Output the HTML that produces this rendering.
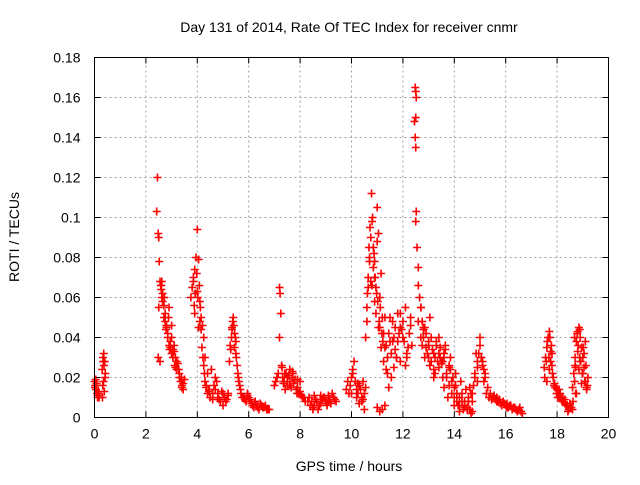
<!DOCTYPE html>
<html><head><meta charset="utf-8"><style>
body{margin:0;background:#fff}
svg text{font-family:"Liberation Sans",sans-serif;font-size:14px;fill:#000}
</style></head><body>
<svg id="chart" width="640" height="480" xmlns="http://www.w3.org/2000/svg">
<text x="349" y="32" text-anchor="middle">Day 131 of 2014, Rate Of TEC Index for receiver cnmr</text>
<text x="349" y="471" text-anchor="middle">GPS time / hours</text>
<text transform="translate(19,237) rotate(-90)" text-anchor="middle">ROTI / TECUs</text>
<g id="grid"></g><g id="ticks"></g><g id="pts"></g>
<rect x="94.5" y="57.5" width="514" height="360" fill="none" stroke="#000" stroke-width="1"/>
</svg>
<script>
const xTicks=[0,2,4,6,8,10,12,14,16,18,20];
const yTicks=[0,0.02,0.04,0.06,0.08,0.1,0.12,0.14,0.16,0.18];
const yTickLabels=["0","0.02","0.04","0.06","0.08","0.1","0.12","0.14","0.16","0.18"];
const times=[0,0.03,0.06,0.1,0.13,0.16,0.05,0.12,0.3,0.33,0.36,0.4,0.42,0.35,0.38,0.31,
2.42,2.45,2.48,2.5,2.52,2.55,2.58,2.6,2.62,2.65,2.5,2.7,2.75,2.8,2.85,2.9,2.95,3.0,3.05,3.1,3.15,3.2,3.25,3.3,3.35,3.4,3.45,3.5,2.9,3.0,3.1,2.48,2.55,
3.75,3.8,3.85,3.9,3.95,4.0,4.05,4.08,4.1,4.12,4.15,4.2,4.25,4.3,3.9,4.0,4.05,
4.3,4.4,4.5,4.6,4.7,4.8,4.9,5.0,5.1,5.2,4.55,4.75,4.95,
5.25,5.3,5.35,5.4,5.45,5.5,5.55,5.6,5.65,5.7,5.38,5.5,
5.8,5.9,6.0,6.1,6.2,6.3,6.4,6.5,6.6,6.7,6.8,5.95,6.25,
7.0,7.1,7.2,7.22,7.25,7.2,7.3,7.4,7.5,7.6,7.7,7.8,7.9,8.0,8.1,8.2,7.35,7.65,7.95,
8.3,8.4,8.5,8.6,8.7,8.8,8.9,9.0,9.1,9.2,9.3,9.4,8.55,9.05,
9.8,9.9,10.0,10.1,10.2,10.3,10.4,10.5,10.05,10.25,10.45,
10.55,10.6,10.65,10.7,10.75,10.78,10.8,10.85,10.9,10.95,11.0,11.05,11.1,11.15,11.2,10.7,10.9,11.0,10.8,11.1,
11.25,11.3,11.4,11.5,11.6,11.7,11.8,11.9,12.0,12.1,12.2,12.3,11.35,11.55,11.75,11.95,12.15,11.3,11.8,
11.0,11.1,11.2,11.3,
12.45,12.48,12.5,12.52,12.5,12.48,12.5,12.52,12.5,12.55,12.6,12.65,12.7,12.75,12.8,12.9,13.0,13.1,13.2,13.3,13.4,13.5,12.85,13.05,13.25,13.45,12.6,
13.55,13.6,13.7,13.8,13.9,14.0,14.1,14.2,14.3,14.4,14.5,14.6,14.7,13.65,13.85,14.05,14.25,14.45,13.75,14.15,
14.6,14.7,14.8,14.9,15.0,15.05,15.1,15.2,15.3,14.85,15.15,
15.4,15.5,15.6,15.7,15.8,15.9,16.0,16.1,16.2,16.3,16.4,16.5,16.6,15.65,16.05,
17.5,17.55,17.6,17.65,17.7,17.75,17.8,17.85,17.9,17.95,18.0,18.05,18.1,17.6,17.75,
18.15,18.2,18.3,18.4,18.5,18.6,18.3,18.5,
18.6,18.65,18.7,18.75,18.8,18.85,18.9,18.95,19.0,19.05,19.1,19.15,19.2,18.7,18.8,18.9,19.0,19.1,18.75,18.95,
0.02,0.08,0.15,0.18,0.34,0.37,0.41,0.32,
2.6,2.65,2.7,2.75,2.8,2.85,2.95,3.05,3.15,3.2,3.3,3.4,3.45,2.72,2.88,3.0,3.12,3.28,3.38,2.62,2.78,2.92,
3.85,3.92,3.98,4.02,4.1,4.15,4.18,4.22,4.28,4.35,4.45,4.25,3.88,
4.35,4.45,4.6,4.65,4.8,4.85,5.05,5.15,5.2,4.4,4.7,5.0,
5.28,5.33,5.42,5.48,5.52,5.58,5.62,5.68,5.75,5.45,5.35,
5.85,5.95,6.05,6.15,6.25,6.35,6.45,6.55,6.65,6.75,
7.05,7.15,7.28,7.32,7.38,7.45,7.5,7.55,7.6,7.7,7.75,7.85,7.9,8.05,8.15,7.42,7.58,7.72,7.88,8.0,
8.35,8.45,8.55,8.65,8.75,8.85,8.95,9.05,9.15,9.25,9.35,8.5,8.8,9.1,
9.85,9.95,10.05,10.15,10.25,10.35,10.45,10.55,10.0,10.2,10.4,10.3,10.5,
10.62,10.68,10.72,10.82,10.88,10.92,10.98,11.02,11.08,11.12,11.18,11.22,10.6,10.75,10.85,10.95,11.05,11.15,10.9,10.65,
11.25,11.35,11.45,11.5,11.55,11.65,11.75,11.85,11.9,12.0,12.05,12.15,12.25,12.35,11.4,11.6,11.7,11.9,12.1,12.3,11.45,11.65,
12.6,12.7,12.75,12.8,12.85,12.95,13.0,13.05,13.1,13.15,13.2,13.25,13.3,13.35,13.4,13.45,13.5,12.9,13.0,13.2,13.4,12.7,12.8,
13.55,13.6,13.65,13.7,13.8,13.85,13.9,13.95,14.0,14.05,14.1,14.2,14.3,14.35,14.4,14.5,14.55,14.65,13.6,13.8,14.0,14.2,14.4,
14.55,14.65,14.75,14.8,14.9,14.95,15.0,15.1,15.15,15.25,14.7,14.9,15.05,15.2,
15.35,15.45,15.55,15.65,15.75,15.85,15.95,16.05,16.15,16.25,16.35,16.45,16.55,16.65,
17.52,17.58,17.62,17.68,17.72,17.78,17.82,17.88,17.92,17.98,18.02,18.08,17.7,17.8,
18.12,18.18,18.25,18.35,18.45,18.55,18.22,18.42,
18.62,18.68,18.72,18.78,18.82,18.88,18.92,18.98,19.02,19.08,19.12,19.18,18.68,18.85,19.05,18.72,18.88,19.15];
const values=[0.018,0.016,0.014,0.012,0.011,0.012,0.019,0.010,0.024,0.030,0.032,0.028,0.022,0.018,0.013,0.010,
0.103,0.120,0.092,0.090,0.078,0.068,0.066,0.066,0.060,0.062,0.055,0.050,0.048,0.045,0.042,0.036,0.035,0.032,0.030,0.036,0.025,0.024,0.027,0.020,0.018,0.016,0.017,0.019,0.055,0.046,0.033,0.030,0.028,
0.060,0.065,0.070,0.074,0.080,0.094,0.079,0.066,0.058,0.055,0.050,0.046,0.040,0.030,0.052,0.063,0.045,
0.018,0.012,0.010,0.009,0.014,0.010,0.008,0.006,0.008,0.011,0.024,0.018,0.013,
0.028,0.034,0.045,0.050,0.042,0.038,0.026,0.020,0.016,0.012,0.048,0.032,
0.010,0.008,0.010,0.007,0.005,0.006,0.004,0.006,0.005,0.004,0.004,0.012,0.008,
0.016,0.020,0.065,0.062,0.052,0.040,0.025,0.022,0.020,0.018,0.023,0.019,0.015,0.013,0.010,0.008,0.017,0.015,0.012,
0.008,0.006,0.005,0.009,0.004,0.007,0.010,0.008,0.011,0.007,0.010,0.008,0.011,0.006,
0.014,0.012,0.020,0.028,0.014,0.016,0.010,0.012,0.022,0.017,0.009,
0.040,0.055,0.070,0.078,0.090,0.112,0.098,0.085,0.078,0.065,0.105,0.092,0.060,0.072,0.050,0.080,0.058,0.088,0.066,0.045,
0.042,0.035,0.030,0.038,0.048,0.045,0.052,0.028,0.040,0.055,0.035,0.046,0.024,0.020,0.030,0.044,0.032,0.050,0.038,
0.005,0.003,0.004,0.006,
0.148,0.165,0.163,0.160,0.150,0.140,0.135,0.103,0.098,0.085,0.075,0.060,0.055,0.048,0.040,0.035,0.030,0.028,0.032,0.038,0.025,0.027,0.045,0.050,0.022,0.035,0.066,
0.028,0.032,0.020,0.025,0.018,0.015,0.012,0.010,0.008,0.006,0.005,0.004,0.003,0.036,0.030,0.022,0.018,0.014,0.010,0.006,
0.015,0.012,0.020,0.025,0.040,0.030,0.028,0.022,0.015,0.032,0.018,
0.012,0.010,0.009,0.008,0.007,0.008,0.006,0.005,0.006,0.005,0.004,0.004,0.003,0.010,0.007,
0.025,0.030,0.035,0.040,0.043,0.033,0.026,0.020,0.017,0.015,0.014,0.012,0.010,0.018,0.028,
0.010,0.008,0.007,0.006,0.005,0.004,0.009,0.007,
0.015,0.022,0.030,0.038,0.043,0.045,0.040,0.035,0.030,0.025,0.018,0.015,0.020,0.026,0.033,0.028,0.022,0.038,0.012,0.017,
0.015,0.017,0.013,0.010,0.028,0.026,0.020,0.016,
0.064,0.058,0.056,0.052,0.046,0.040,0.038,0.034,0.030,0.028,0.022,0.015,0.014,0.060,0.050,0.040,0.026,0.024,0.020,0.068,0.044,0.034,
0.068,0.062,0.072,0.060,0.048,0.044,0.035,0.030,0.022,0.016,0.013,0.026,0.056,
0.015,0.014,0.012,0.016,0.012,0.009,0.010,0.009,0.012,0.022,0.020,0.012,
0.036,0.040,0.046,0.040,0.030,0.022,0.018,0.014,0.010,0.035,0.044,
0.009,0.011,0.009,0.006,0.008,0.005,0.007,0.005,0.006,0.004,
0.018,0.022,0.026,0.020,0.018,0.022,0.016,0.021,0.024,0.020,0.017,0.014,0.019,0.011,0.010,0.014,0.016,0.022,0.012,0.018,
0.010,0.008,0.006,0.008,0.006,0.009,0.010,0.007,0.009,0.012,0.009,0.004,0.011,0.008,
0.018,0.016,0.024,0.018,0.012,0.014,0.018,0.015,0.012,0.010,0.008,0.007,0.004,
0.062,0.085,0.095,0.100,0.082,0.070,0.062,0.058,0.048,0.055,0.042,0.038,0.048,0.068,0.075,0.052,0.045,0.035,0.070,0.065,
0.028,0.036,0.042,0.050,0.032,0.040,0.030,0.042,0.052,0.048,0.038,0.030,0.042,0.036,0.022,0.038,0.034,0.045,0.026,0.050,0.015,0.025,
0.048,0.040,0.036,0.044,0.030,0.032,0.036,0.026,0.040,0.034,0.024,0.030,0.036,0.028,0.040,0.030,0.028,0.042,0.038,0.020,0.032,0.055,0.045,
0.020,0.030,0.034,0.022,0.016,0.024,0.012,0.020,0.010,0.016,0.008,0.006,0.012,0.004,0.008,0.004,0.008,0.002,0.015,0.026,0.006,0.003,0.005,
0.010,0.012,0.016,0.022,0.028,0.032,0.036,0.026,0.024,0.012,0.008,0.018,0.030,0.020,
0.010,0.009,0.011,0.008,0.009,0.006,0.007,0.005,0.006,0.004,0.005,0.003,0.005,0.002,
0.020,0.028,0.038,0.030,0.040,0.036,0.022,0.016,0.015,0.012,0.010,0.014,0.024,0.032,
0.012,0.009,0.008,0.006,0.004,0.005,0.010,0.003,
0.008,0.018,0.025,0.042,0.036,0.030,0.028,0.022,0.035,0.018,0.026,0.016,0.040,0.024,0.032,0.012,0.044,0.014];
const X0=94.5,X1=608.5,Y0=417.5,Y1=57.5;
const xs=t=>X0+(t-0)/(20-0)*(X1-X0);
const ys=v=>Y0-(v-0)/(0.18-0)*(Y0-Y1);
const NS="http://www.w3.org/2000/svg";
const grid=document.getElementById('grid'),tk=document.getElementById('ticks'),pts=document.getElementById('pts');
function mk(tag,a,parent){const e=document.createElementNS(NS,tag);for(const k in a)e.setAttribute(k,a[k]);parent.appendChild(e);return e;}
xTicks.forEach(t=>{const x=xs(t);
 if(t>0&&t<20){const g=mk('line',{x1:x,x2:x,y1:Y0,y2:Y1,stroke:'#a0a0a0','stroke-dasharray':'2,3'},grid);
 
 }
 mk('line',{x1:x,x2:x,y1:Y0,y2:Y0-6,stroke:'#000'},tk);mk('line',{x1:x,x2:x,y1:Y1,y2:Y1+6,stroke:'#000'},tk);
 const l=mk('text',{x:x,y:Y0+21,'text-anchor':'middle'},tk);l.textContent=t;
 
 });
yTicks.forEach((v,i)=>{const y=ys(v);
 if(i>0&&i<yTicks.length-1){const g=mk('line',{x1:X0,x2:X1,y1:y,y2:y,stroke:'#a0a0a0','stroke-dasharray':'2,3'},grid);
 
 }
 mk('line',{x1:X0,x2:X0+6,y1:y,y2:y,stroke:'#000'},tk);mk('line',{x1:X1,x2:X1-6,y1:y,y2:y,stroke:'#000'},tk);
 const l=mk('text',{x:X0-14,y:y+5,'text-anchor':'end'},tk);l.textContent=yTickLabels[i];
 
 });
times.forEach((t,i)=>{const x=xs(t),y=ys(values[i]);
 const p=mk('path',{d:`M${x-4},${y}h8M${x},${y-4}v8`,stroke:'#f00','stroke-width':1.6},pts);
 
 });
</script>
</body></html>
